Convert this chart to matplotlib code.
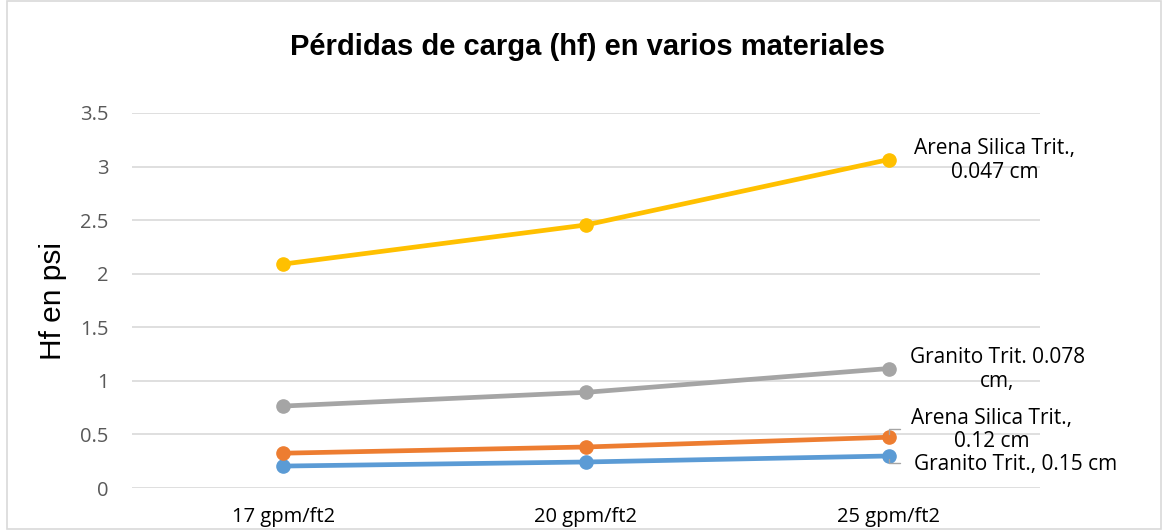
import matplotlib
matplotlib.use("Agg")
import matplotlib.pyplot as plt
from matplotlib.patches import Rectangle

categories = ["17 gpm/ft2", "20 gpm/ft2", "25 gpm/ft2"]
series_names = ["Granito Trit., 0.15 cm", "Arena Silica Trit.,\n0.12 cm",
                "Granito Trit. 0.078\ncm,", "Arena Silica Trit.,\n0.047 cm"]
granito_015 = [0.205, 0.243, 0.299]
arena_012 = [0.325, 0.383, 0.474]
granito_0078 = [0.765, 0.893, 1.115]
arena_0047 = [2.09, 2.455, 3.065]
yticks = [0, 0.5, 1, 1.5, 2, 2.5, 3, 3.5]
ytick_labels = ["0", "0.5", "1", "1.5", "2", "2.5", "3", "3.5"]

colors = ["#5B9BD5", "#ED7D31", "#A5A5A5", "#FFC000"]
values = [granito_015, arena_012, granito_0078, arena_0047]
label_offsets = [(127, -9), (103, 7), (109, -1), (106, -1)]

fig = plt.figure(figsize=(11.63, 5.30), dpi=100)
fig.patches.append(Rectangle((0.006, 0.002), 0.992, 0.996, transform=fig.transFigure,
                             fill=False, edgecolor="#d9d9d9", linewidth=1.2))
ax = fig.add_axes([0.1135, 0.0792, 0.7806, 0.7076])

x = list(range(len(categories)))
for vals, col in zip(values, colors):
    ax.plot(x, vals, color=col, linewidth=3.4, marker="o", markersize=9.5,
            solid_capstyle="round", zorder=3)

for vals, name, (dx, dy) in zip(values, series_names, label_offsets):
    ax.annotate(name, xy=(x[-1], vals[-1]), xytext=(dx, dy), textcoords="offset pixels",
                ha="center", va="center", fontsize=15, family="Open Sans",
                color="#000000", linespacing=1.15, annotation_clip=False)

# leader lines for crowded labels
ax.annotate("", xy=(x[-1], arena_012[-1]), xytext=(14, 8), textcoords="offset pixels",
            arrowprops=dict(arrowstyle="-", color="#A5A5A5", lw=1,
                            connectionstyle="angle,angleA=0,angleB=90,rad=0"),
            annotation_clip=False)
ax.annotate("", xy=(x[-1], granito_015[-1]), xytext=(14, -7), textcoords="offset pixels",
            arrowprops=dict(arrowstyle="-", color="#A5A5A5", lw=1,
                            connectionstyle="angle,angleA=0,angleB=90,rad=0"),
            annotation_clip=False)

ax.set_xlim(-0.5, 2.5)
ax.set_ylim(0, 3.5)
ax.set_xticks(x)
ax.set_xticklabels(categories, family="Open Sans", fontsize=14.5, color="#000000")
ax.set_yticks(yticks)
ax.set_yticklabels(ytick_labels, family="Open Sans", fontsize=14.5, color="#595959")
ax.tick_params(axis="both", length=0)
ax.tick_params(axis="y", pad=17)
ax.tick_params(axis="x", pad=14)
ax.grid(axis="y", color="#d9d9d9", linewidth=1.2)
ax.set_axisbelow(True)
for s in ax.spines.values():
    s.set_visible(False)

ax.set_ylabel("Hf en psi", family="Liberation Sans", fontsize=21.5, labelpad=9)
fig.text(0.505, 0.911, "Pérdidas de carga (hf) en varios materiales", ha="center", va="center",
         family="Liberation Sans", fontsize=21, fontweight="bold")

fig.savefig("out.png", dpi=100)
